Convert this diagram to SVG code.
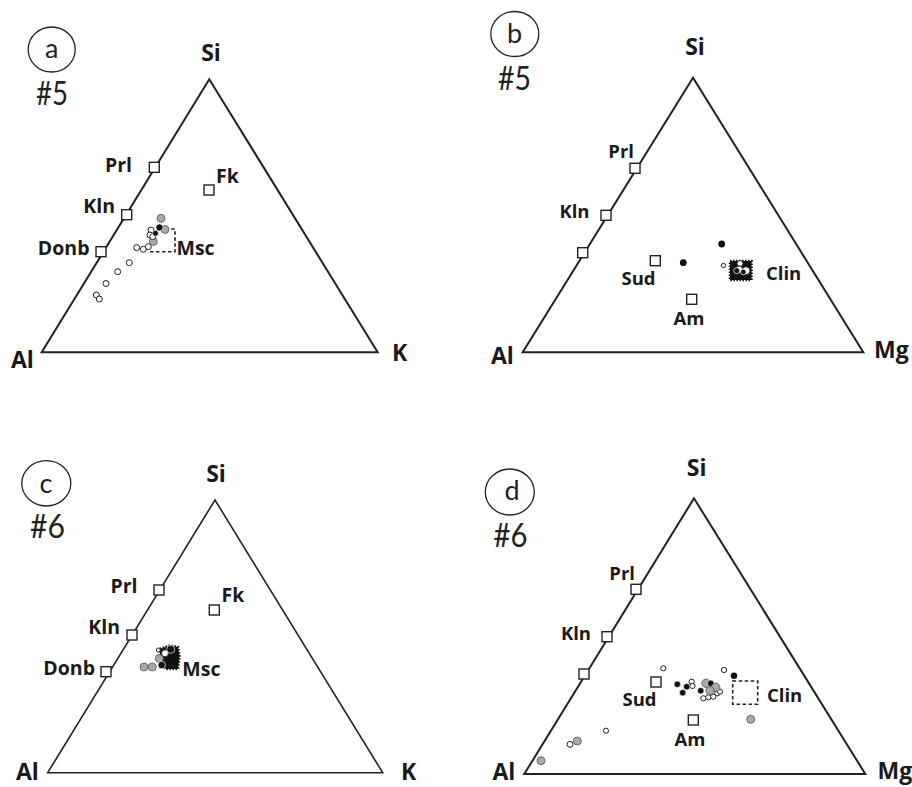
<svg xmlns="http://www.w3.org/2000/svg" width="912" height="787" viewBox="0 0 912 787">
<style>
.tri{fill:none;stroke:#222;stroke-width:2;stroke-linejoin:miter}
.sq{fill:#fff;stroke:#222;stroke-width:1.4}
.o{fill:#fff;stroke:#222;stroke-width:1}
.k{fill:#111;stroke:#fff;stroke-width:0.7}
.g{fill:#a9a9a9;stroke:#555;stroke-width:0.8}
.dash{fill:none;stroke:#222;stroke-width:1.6;stroke-dasharray:3.5 2.5}
.blob{fill:#111;stroke:#111;stroke-width:2.5;stroke-dasharray:1.5 1.5}
.lab{font-family:"Open Sans","Liberation Sans",sans-serif;font-weight:700;fill:#1a1a1a}
.v{font-size:23px}
.m{font-size:19.5px}
.m2{font-size:18.5px}
.id{font-family:Lato,"Liberation Sans",sans-serif;font-weight:400;fill:#222}
.tag{fill:none;stroke:#222;stroke-width:1.3}
</style>

<g id="panel-a">
  <ellipse class="tag" cx="51.7" cy="49.5" rx="23.5" ry="22.5"/>
  <text class="id" x="51.7" y="57.5" font-size="27" text-anchor="middle">a</text>
  <text class="id" x="36" y="105" font-size="32" textLength="32" lengthAdjust="spacingAndGlyphs">#5</text>
  <polygon class="tri" points="209.3,79.3 41.7,352.3 377.7,352.3"/>
  <text class="lab v" x="211" y="61" text-anchor="middle">Si</text>
  <text class="lab v" x="11" y="368">Al</text>
  <text class="lab v" x="392" y="361">K</text>
  <rect class="sq" x="149.3" y="162.3" width="10" height="10"/>
  <rect class="sq" x="121.7" y="209.7" width="10" height="10"/>
  <rect class="sq" x="96" y="246.7" width="10" height="10"/>
  <rect class="sq" x="204" y="185" width="10" height="10"/>
  <text class="lab m" x="132" y="171.5" text-anchor="end">Prl</text>
  <text class="lab m" x="115" y="213" text-anchor="end">Kln</text>
  <text class="lab m" x="89.5" y="255" text-anchor="end">Donb</text>
  <text class="lab m" x="216" y="182.5">Fk</text>
  <text class="lab m" x="176.5" y="255">Msc</text>
  <polyline class="dash" points="150,251.7 175,251.7 175,229 163,229"/>
  <circle class="g" cx="161" cy="218.3" r="4"/>
  <circle class="g" cx="165" cy="229.5" r="4"/>
  <circle class="g" cx="153.3" cy="241.5" r="4"/>
  <circle class="o" cx="151" cy="230" r="3"/>
  <circle class="o" cx="150" cy="235" r="3"/>
  <circle class="o" cx="152.7" cy="236.7" r="3"/>
  <circle class="k" cx="159.5" cy="227.5" r="3.6"/>
  <circle class="k" cx="155.5" cy="233.3" r="3"/>
  <circle class="o" cx="148.3" cy="246.7" r="3"/>
  <circle class="o" cx="143.3" cy="249.3" r="3"/>
  <circle class="o" cx="136.7" cy="247.7" r="3"/>
  <circle class="o" cx="129.3" cy="262.7" r="3"/>
  <circle class="o" cx="117.7" cy="271.7" r="3"/>
  <circle class="o" cx="106" cy="283.5" r="3"/>
  <circle class="o" cx="96.3" cy="295" r="3"/>
  <circle class="o" cx="99.3" cy="299" r="3"/>
</g>

<g id="panel-b">
  <ellipse class="tag" cx="514.8" cy="34" rx="24" ry="22.5"/>
  <text class="id" x="514.5" y="43.3" font-size="27" text-anchor="middle">b</text>
  <text class="id" x="498" y="90" font-size="32" textLength="33" lengthAdjust="spacingAndGlyphs">#5</text>
  <polygon class="tri" points="693,77.7 522.7,352.3 863.3,352.3"/>
  <text class="lab v" x="695" y="55" text-anchor="middle">Si</text>
  <text class="lab v" x="491" y="363.5">Al</text>
  <text class="lab v" x="874" y="358" font-size="23.5">Mg</text>
  <rect class="sq" x="630" y="163.3" width="10" height="10"/>
  <rect class="sq" x="601" y="210.3" width="10" height="10"/>
  <rect class="sq" x="577.7" y="247.7" width="10" height="10"/>
  <rect class="sq" x="650.3" y="255.7" width="10" height="10"/>
  <rect class="sq" x="686.7" y="294.3" width="10" height="10"/>
  <text class="lab m2" x="634" y="158.3" text-anchor="end">Prl</text>
  <text class="lab m2" x="589.5" y="218.3" text-anchor="end">Kln</text>
  <text class="lab m2" x="655.5" y="285" text-anchor="end">Sud</text>
  <text class="lab m2" x="689" y="325" text-anchor="middle">Am</text>
  <text class="lab m2" x="766" y="280">Clin</text>
  <circle cx="683.3" cy="262.7" r="3.4" fill="#111"/>
  <circle cx="721.7" cy="244" r="3.4" fill="#111"/>
  <circle class="o" cx="723.5" cy="265.5" r="2.2"/>
  <rect class="blob" x="730" y="261" width="21.5" height="19"/>
  <circle class="o" cx="740" cy="263.5" r="3"/>
  <circle class="o" cx="739.3" cy="269.5" r="3.5"/>
  <circle class="o" cx="746" cy="270.7" r="4"/>
  <circle class="k" cx="736.7" cy="270.7" r="3"/>
  <circle class="k" cx="743.3" cy="272" r="2.8"/>
</g>

<g id="panel-c">
  <ellipse class="tag" cx="46.3" cy="483.3" rx="24.5" ry="22.7"/>
  <text class="id" x="46" y="492.7" font-size="27" text-anchor="middle">c</text>
  <text class="id" x="30" y="537.7" font-size="32" textLength="35" lengthAdjust="spacingAndGlyphs">#6</text>
  <polygon class="tri" points="215,500 47.7,772.7 382.7,772.7" style="stroke-width:1.6"/>
  <text class="lab v" x="16" y="780">Al</text>
  <text class="lab v" x="216" y="481.7" text-anchor="middle">Si</text>
  <text class="lab v" x="401" y="780">K</text>
  <rect class="sq" x="154" y="585" width="10" height="10"/>
  <rect class="sq" x="127" y="630" width="10" height="10"/>
  <rect class="sq" x="101" y="666.7" width="10" height="10"/>
  <rect class="sq" x="209.3" y="605" width="10" height="10"/>
  <text class="lab m" x="137.5" y="592.7" text-anchor="end">Prl</text>
  <text class="lab m" x="120" y="634" text-anchor="end">Kln</text>
  <text class="lab m" x="95" y="675" text-anchor="end">Donb</text>
  <text class="lab m" x="221.5" y="602.3">Fk</text>
  <text class="lab m" x="182.3" y="675.7">Msc</text>
  <polygon class="blob" points="160,649 170,645.5 178,647 179.5,656 178,669 166,669 160,663"/>
  <circle class="g" cx="144" cy="667" r="4"/>
  <circle class="g" cx="152.3" cy="667" r="4"/>
  <circle class="g" cx="159.3" cy="658.5" r="4"/>
  <circle class="o" cx="158.3" cy="650" r="2"/>
  <circle class="o" cx="165" cy="653.3" r="3.5"/>
  <circle class="k" cx="170.7" cy="649.3" r="4"/>
  <circle class="k" cx="161.7" cy="665" r="3.8"/>
</g>

<g id="panel-d">
  <ellipse class="tag" cx="509.8" cy="492" rx="24.5" ry="23"/>
  <text class="id" x="512" y="500" font-size="27" text-anchor="middle">d</text>
  <text class="id" x="493.5" y="546.7" font-size="32" textLength="34" lengthAdjust="spacingAndGlyphs">#6</text>
  <polygon class="tri" points="694,498.3 524.3,774 865.3,774"/>
  <text class="lab v" x="696.7" y="476" text-anchor="middle">Si</text>
  <text class="lab v" x="492.5" y="780">Al</text>
  <text class="lab v" x="877.5" y="779" font-size="23.5">Mg</text>
  <rect class="sq" x="631" y="584.3" width="10" height="10"/>
  <rect class="sq" x="602" y="631.7" width="10" height="10"/>
  <rect class="sq" x="579" y="669" width="10" height="10"/>
  <rect class="sq" x="651" y="677" width="10" height="10"/>
  <rect class="sq" x="688.3" y="715" width="10" height="10"/>
  <text class="lab m2" x="635" y="580" text-anchor="end">Prl</text>
  <text class="lab m2" x="591" y="640" text-anchor="end">Kln</text>
  <text class="lab m2" x="656.5" y="706" text-anchor="end">Sud</text>
  <text class="lab m2" x="690" y="746" text-anchor="middle">Am</text>
  <text class="lab m2" x="767" y="701.7">Clin</text>
  <rect class="dash" x="732.7" y="681" width="25" height="23.3"/>
  <circle class="o" cx="663.3" cy="668.3" r="2.6"/>
  <circle class="o" cx="724" cy="670" r="2.6"/>
  <circle cx="734" cy="675.7" r="3.2" fill="#111"/>
  <circle class="o" cx="691.7" cy="681.7" r="2.6"/>
  <circle class="o" cx="692.5" cy="686" r="2.6"/>
  <circle class="k" cx="677.3" cy="684.3" r="3.3"/>
  <circle class="k" cx="686.7" cy="686.7" r="3.3"/>
  <circle class="k" cx="682.7" cy="692.7" r="3.3"/>
  <circle class="o" cx="703.3" cy="698.3" r="2.6"/>
  <circle class="o" cx="708.3" cy="697.3" r="2.6"/>
  <circle class="o" cx="713.3" cy="696.7" r="2.6"/>
  <circle class="o" cx="717.3" cy="693.3" r="2.6"/>
  <circle class="o" cx="720" cy="691.7" r="2.6"/>
  <circle class="g" cx="706" cy="683.3" r="4.2"/>
  <circle class="k" cx="710.7" cy="683.3" r="3.3"/>
  <circle class="g" cx="715.7" cy="687.3" r="4.2"/>
  <circle class="k" cx="700.7" cy="690.7" r="3.3"/>
  <circle class="g" cx="710" cy="690.7" r="4.2"/>
  <circle class="g" cx="750.7" cy="719.3" r="4"/>
  <circle class="g" cx="541" cy="760.7" r="4"/>
  <circle class="o" cx="570" cy="744.3" r="3"/>
  <circle class="g" cx="577.3" cy="741" r="4"/>
  <circle class="o" cx="606" cy="730.7" r="2.6"/>
</g>
</svg>
